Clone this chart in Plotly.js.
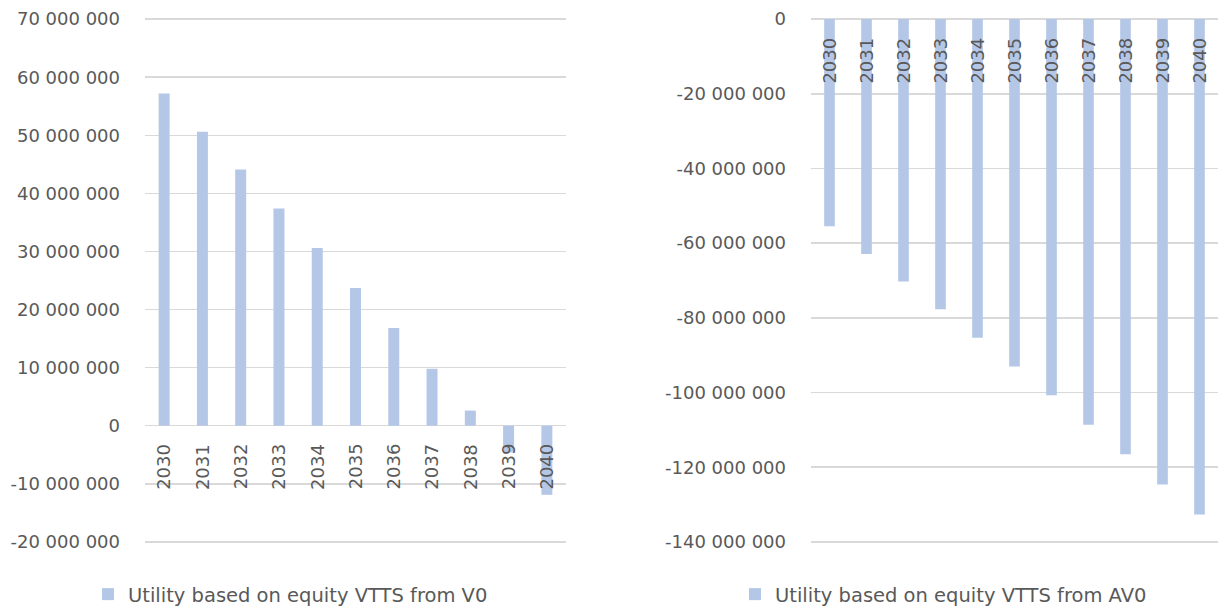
<!DOCTYPE html>
<html>
<head>
<meta charset="utf-8">
<script src="https://cdn.plot.ly/plotly-3.0.1.min.js"></script>
<style>html,body{margin:0;padding:0;background:#fff;}#chart{width:1218px;height:614px;}</style>
</head>
<body>
<div id="chart"></div>
<script>
// ---- data ----
const years = ["2030","2031","2032","2033","2034","2035","2036","2037","2038","2039","2040"];
const utilityV0 = [57200000, 50600000, 44100000, 37400000, 30600000, 23700000, 16800000, 9800000, 2600000, -4600000, -11900000];
const utilityAV0 = [-55500000, -62900000, -70300000, -77700000, -85300000, -93000000, -100700000, -108600000, -116500000, -124600000, -132700000];
const seriesNames = ["Utility based on equity VTTS from V0", "Utility based on equity VTTS from AV0"];
const leftTickVals = [70000000, 60000000, 50000000, 40000000, 30000000, 20000000, 10000000, 0, -10000000, -20000000];
const leftTickText = ["70 000 000","60 000 000","50 000 000","40 000 000","30 000 000","20 000 000","10 000 000","0","-10 000 000","-20 000 000"];
const rightTickVals = [0, -20000000, -40000000, -60000000, -80000000, -100000000, -120000000, -140000000];
const rightTickText = ["0","-20 000 000","-40 000 000","-60 000 000","-80 000 000","-100 000 000","-120 000 000","-140 000 000"];

// ---- styling ----
const W = 1218, H = 614;
const FONT = "'DejaVu Sans', sans-serif";
const FS = 18;
const LFS = 19.5;
const TXT = "#595959";
const GRID = "#d9d9d9";
const BAR = "#b4c7e7";

const traces = [
  {type:"bar", x: years, y: utilityV0, name: seriesNames[0], xaxis:"x", yaxis:"y",
   marker:{color:BAR}, legend:"legend", hoverinfo:"x+y"},
  {type:"bar", x: years, y: utilityAV0, name: seriesNames[1], xaxis:"x2", yaxis:"y2",
   marker:{color:BAR}, legend:"legend2", hoverinfo:"x+y"}
];

const annotations = [];
years.forEach(function(yr, i){
  annotations.push({xref:"x", yref:"y", x: i, y: 0, text: yr, showarrow:false,
    textangle:-90, yanchor:"top", xanchor:"center", yshift:-16,
    font:{family:FONT, size:FS, color:TXT}});
  annotations.push({xref:"x2", yref:"y2", x: i, y: 0, text: yr, showarrow:false,
    textangle:-90, yanchor:"top", xanchor:"center", yshift:-17,
    font:{family:FONT, size:FS, color:TXT}});
});

const yCommon = {showgrid:true, gridcolor:GRID, gridwidth:1.5, zeroline:true, zerolinecolor:GRID, zerolinewidth:1.5,
  showline:false, ticks:"", tickfont:{family:FONT, size:FS, color:TXT}, tickmode:"array",
  automargin:false, ticklabelstandoff:24, fixedrange:true};
const xCommon = {type:"category", showgrid:false, zeroline:false, showline:false, showticklabels:false,
  ticks:"", range:[-0.5, 10.5], fixedrange:true};

const layout = {
  width: W, height: H,
  margin:{l:0, r:0, t:18, b:66, pad:0},
  paper_bgcolor:"#ffffff", plot_bgcolor:"#ffffff",
  font:{family:FONT, size:FS, color:TXT},
  bargap: 0.713,
  showlegend:true,
  xaxis: Object.assign({}, xCommon, {domain:[145/W, 566/W], anchor:"y"}),
  yaxis: Object.assign({}, yCommon, {range:[-20200000, 70200000], tickvals:leftTickVals, ticktext:leftTickText, anchor:"x"}),
  xaxis2: Object.assign({}, xCommon, {domain:[811/W, 1], anchor:"y2"}),
  yaxis2: Object.assign({}, yCommon, {range:[-140300000, 300000], tickvals:rightTickVals, ticktext:rightTickText, anchor:"x2"}),
  legend:{x:88/W, xanchor:"left", y:-0.098, yanchor:"middle", orientation:"h",
    font:{family:FONT, size:LFS, color:TXT}, bgcolor:"rgba(0,0,0,0)"},
  legend2:{x:735/W, xanchor:"left", y:-0.098, yanchor:"middle", orientation:"h",
    font:{family:FONT, size:LFS, color:TXT}, bgcolor:"rgba(0,0,0,0)"},
  annotations: annotations
};

Plotly.newPlot("chart", traces, layout, {displayModeBar:false, staticPlot:true});
</script>
</body>
</html>
